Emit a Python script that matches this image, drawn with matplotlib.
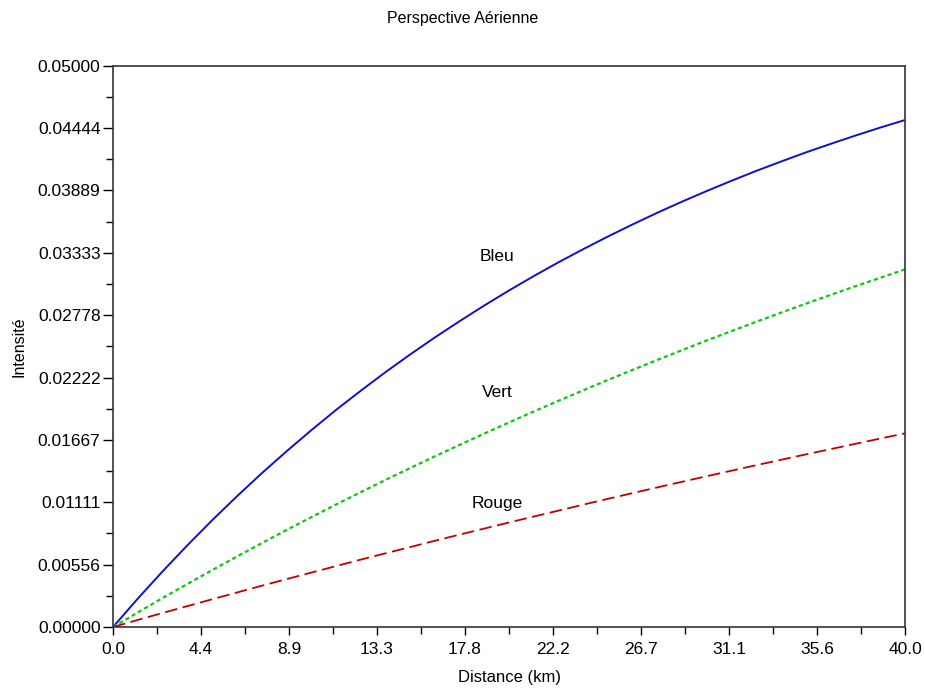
import matplotlib.pyplot as plt
from matplotlib.ticker import FixedLocator

plt.rcParams['font.family'] = ['Liberation Sans', 'DejaVu Sans']
plt.rcParams['lines.scale_dashes'] = False

# Values
distance = [0.0, 1.25, 2.5, 3.75, 5.0, 6.25, 7.5, 8.75, 10.0, 11.25, 12.5, 13.75, 15.0,
            16.25, 17.5, 18.75, 20.0, 21.25, 22.5, 23.75, 25.0, 26.25, 27.5, 28.75,
            30.0, 31.25, 32.5, 33.75, 35.0, 36.25, 37.5, 38.75, 40.0]
bleu = [0.0, 0.00253, 0.00495, 0.00727, 0.00950, 0.01163, 0.01368, 0.01563, 0.01751,
        0.01932, 0.02103, 0.02269, 0.02427, 0.02579, 0.02724, 0.02864, 0.02998,
        0.03126, 0.03249, 0.03366, 0.03479, 0.03587, 0.03691, 0.03790, 0.03885,
        0.03976, 0.04064, 0.04147, 0.04228, 0.04304, 0.04378, 0.04449, 0.04516]
vert = [0.0, 0.00130, 0.00258, 0.00383, 0.00506, 0.00627, 0.00746, 0.00863, 0.00977,
        0.01090, 0.01200, 0.01309, 0.01415, 0.01520, 0.01622, 0.01723, 0.01822,
        0.01920, 0.02015, 0.02109, 0.02201, 0.02291, 0.02380, 0.02467, 0.02554,
        0.02637, 0.02720, 0.02801, 0.02881, 0.02959, 0.03036, 0.03111, 0.03186]
rouge = [0.0, 0.00063, 0.00125, 0.00186, 0.00247, 0.00307, 0.00367, 0.00426, 0.00484,
         0.00542, 0.00600, 0.00656, 0.00712, 0.00768, 0.00823, 0.00877, 0.00931,
         0.00984, 0.01037, 0.01090, 0.01142, 0.01193, 0.01244, 0.01294, 0.01344,
         0.01393, 0.01442, 0.01490, 0.01538, 0.01585, 0.01632, 0.01679, 0.01725]

x_ticks = [0.0, 4.444, 8.889, 13.333, 17.778, 22.222, 26.667, 31.111, 35.556, 40.0]
x_labels = ['0.0', '4.4', '8.9', '13.3', '17.8', '22.2', '26.7', '31.1', '35.6', '40.0']
y_ticks = [0.0, 0.005556, 0.011111, 0.016667, 0.022222, 0.027778, 0.033333, 0.038889, 0.044444, 0.05]
y_labels = ['0.00000', '0.00556', '0.01111', '0.01667', '0.02222',
            '0.02778', '0.03333', '0.03889', '0.04444', '0.05000']

# Curve labels (name, x, y)
annotations = [('Bleu', 19.4, 0.0330), ('Vert', 19.4, 0.0209), ('Rouge', 19.4, 0.0110)]

fig = plt.figure(figsize=(9.25, 6.91), dpi=100)
ax = fig.add_axes([0.1222, 0.0926, 0.8562, 0.8123])

ax.plot(distance, bleu, color='#1010c8', linewidth=1.4)
ax.plot(distance, vert, color='#10c810', linewidth=1.6, dashes=(3, 2.2))
ax.plot(distance, rouge, color='#c00000', linewidth=1.3, dashes=(9, 4))

for name, xa, ya in annotations:
    ax.text(xa, ya, name, fontsize=12.5, ha='center', va='center')

ax.set_xlim(0, 40)
ax.set_ylim(0, 0.05)
ax.set_xticks(x_ticks)
ax.set_xticklabels(x_labels)
ax.set_yticks(y_ticks)
ax.set_yticklabels(y_labels)
ax.xaxis.set_minor_locator(FixedLocator([(a + b) / 2 for a, b in zip(x_ticks[:-1], x_ticks[1:])]))
ax.yaxis.set_minor_locator(FixedLocator([(a + b) / 2 for a, b in zip(y_ticks[:-1], y_ticks[1:])]))
ax.tick_params(axis='both', which='major', labelsize=12.5, direction='out', width=1)
ax.tick_params(axis='x', which='major', length=6, pad=5)
ax.tick_params(axis='x', which='minor', length=5, width=1)
ax.tick_params(axis='y', which='major', length=7, pad=2)
ax.tick_params(axis='y', which='minor', length=5, width=1)
for s in ax.spines.values():
    s.set_linewidth(1.2)
    s.set_color('#333333')

ax.set_xlabel('Distance (km)', fontsize=12, labelpad=9)
ax.set_ylabel('Intensité', fontsize=11.5, labelpad=8)
fig.text(0.5, 1 - 18 / 691, 'Perspective Aérienne', fontsize=11.5, ha='center', va='center')

fig.savefig('out.png', dpi=100)
